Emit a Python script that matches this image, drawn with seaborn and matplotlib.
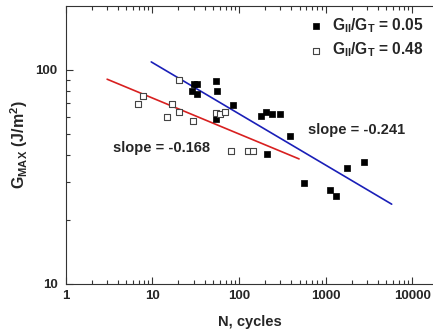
import numpy as np
import pandas as pd
import matplotlib
matplotlib.use("Agg")
import matplotlib.pyplot as plt
import seaborn as sns
from matplotlib.ticker import LogLocator, FixedLocator, FixedFormatter, NullFormatter

# ---- data ----
filled_N = [30.5, 32.6, 28.5, 32.6, 54.8, 55.7, 86.2, 54.8, 181.5, 203.9, 243, 296, 389,
            209, 565, 1127, 1333, 1770, 2786]
filled_G = [86, 86, 80, 77, 88.9, 79.5, 68.4, 59.2, 61, 63.9, 62.1, 62.5, 49.2,
            40.4, 29.7, 27.6, 25.8, 35, 37.3]
hollow_N = [20.5, 7.74, 6.9, 16.7, 14.7, 20.5, 29.5, 54.0, 60.5, 69.5, 80.4, 127, 144]
hollow_G = [89.8, 75.6, 69.2, 69.6, 60.3, 63.6, 58, 62.8, 62.2, 63.9, 42, 41.7, 41.7]

fit_blue_N = [9.7, 5800]
fit_blue_G = [109, 23.6]
fit_red_N = [3.0, 494]
fit_red_G = [90.5, 38.4]

label_filled = r"G$_{II}$/G$_{T}$ = 0.05"
label_hollow = r"G$_{II}$/G$_{T}$ = 0.48"
slope_blue = "slope = -0.241"
slope_red = "slope = -0.168"
x_ticks = [1, 10, 100, 1000, 10000]
x_ticklabels = ["1", "10", "100", "1000", "10000"]
y_ticks = [10, 100]
y_ticklabels = ["10", "100"]

sns.set_theme(style="ticks")
plt.rcParams["font.family"] = ["Liberation Sans", "DejaVu Sans"]
plt.rcParams["font.weight"] = "bold"
plt.rcParams["mathtext.fontset"] = "custom"
plt.rcParams["mathtext.rm"] = "Liberation Sans:bold"
plt.rcParams["mathtext.it"] = "Liberation Sans:bold"
plt.rcParams["mathtext.bf"] = "Liberation Sans:bold"
plt.rcParams["mathtext.default"] = "regular"

fig = plt.figure(figsize=(4.33, 3.31), dpi=100)
ax = fig.add_axes([0.152, 0.142, 0.848, 0.840])

df_f = pd.DataFrame({"N": filled_N, "G": filled_G})
df_h = pd.DataFrame({"N": hollow_N, "G": hollow_G})
df_b = pd.DataFrame({"N": fit_blue_N, "G": fit_blue_G})
df_r = pd.DataFrame({"N": fit_red_N, "G": fit_red_G})

sns.lineplot(data=df_b, x="N", y="G", ax=ax, color="#1a1fb8", linewidth=1.2, legend=False)
sns.lineplot(data=df_r, x="N", y="G", ax=ax, color="#d82020", linewidth=1.2, legend=False)
sns.scatterplot(data=df_f, x="N", y="G", ax=ax, marker="s", s=17, color="black",
                edgecolor="black", linewidth=0.5, label=label_filled, zorder=5)
sns.scatterplot(data=df_h, x="N", y="G", ax=ax, marker="s", s=17, facecolor="white",
                edgecolor="#444444", linewidth=0.8, label=label_hollow, zorder=5)

ax.set_xscale("log")
ax.set_yscale("log")
ax.set_xlim(1, 17400)
ax.set_ylim(10, 199)

ax.xaxis.set_major_locator(FixedLocator(x_ticks))
ax.xaxis.set_major_formatter(FixedFormatter(x_ticklabels))
ax.xaxis.set_minor_locator(LogLocator(base=10, subs=np.arange(2, 10)))
ax.xaxis.set_minor_formatter(NullFormatter())
ax.yaxis.set_major_locator(FixedLocator(y_ticks))
ax.yaxis.set_major_formatter(FixedFormatter(y_ticklabels))
ax.yaxis.set_minor_locator(LogLocator(base=10, subs=np.arange(2, 10)))
ax.yaxis.set_minor_formatter(NullFormatter())

ax.tick_params(which="both", direction="in", top=True, right=False, color="#333333", width=0.8)
ax.tick_params(which="major", length=5, labelsize=9.5)
ax.tick_params(axis="x", which="major", pad=4)
ax.tick_params(axis="y", which="major", pad=6)
ax.tick_params(which="minor", length=3)
for lab in ax.get_xticklabels() + ax.get_yticklabels():
    lab.set_fontweight("bold")

for side in ["left", "bottom", "top"]:
    ax.spines[side].set_color("#333333")
    ax.spines[side].set_linewidth(0.8)
ax.spines["right"].set_visible(False)

ax.set_xlabel("N, cycles", fontsize=10.5, fontweight="bold", labelpad=10)
ax.set_ylabel(r"G$_{MAX}$ (J/m$^{2}$)", fontsize=11.5, fontweight="bold", labelpad=4)

ax.text(628, 52.5, slope_blue, fontsize=10.5, fontweight="bold", va="center", ha="left")
ax.text(3.52, 43.3, slope_red, fontsize=10.5, fontweight="bold", va="center", ha="left")

leg = ax.legend(loc="upper right", bbox_to_anchor=(1.0, 0.998), frameon=False,
                fontsize=11.2, handletextpad=0.55, labelspacing=0.4, borderaxespad=0.2,
                handlelength=1.0)
for t in leg.get_texts():
    t.set_fontweight("bold")

fig.savefig("out.png", dpi=100, facecolor="white")
